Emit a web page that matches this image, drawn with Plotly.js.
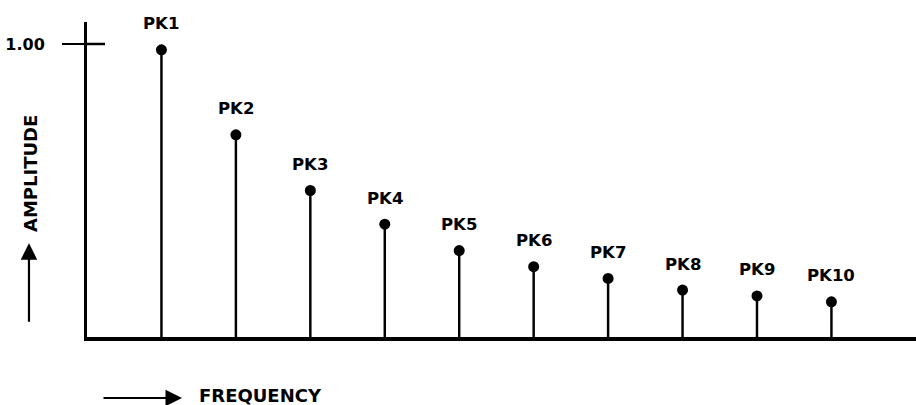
<!DOCTYPE html>
<html>
<head>
<meta charset="utf-8">
<script src="https://cdn.plot.ly/plotly-3.0.1.min.js"></script>
<style>html,body{margin:0;padding:0;background:#fff;}#chart{width:916px;height:405px;}</style>
</head>
<body>
<div id="chart"></div>
<script>
var peakLabels = ['PK1','PK2','PK3','PK4','PK5','PK6','PK7','PK8','PK9','PK10'];
var frequency = [1,2,3,4,5,6,7,8,9,10];
var amplitude = [0.98,0.69,0.50,0.385,0.295,0.24,0.20,0.16,0.14,0.12];
var yTickVals = [1];
var yTickText = ['<b>1.00</b>'];

var FONT = 'DejaVu Sans';

var stems = {
  type: 'bar', x: frequency, y: amplitude, width: 0.033,
  marker: {color: '#000', line: {width: 0}}, hoverinfo: 'skip', showlegend: false
};
var dots = {
  type: 'scatter', mode: 'markers', x: frequency, y: amplitude,
  marker: {color: '#000', size: 11}, showlegend: false
};

var annotations = peakLabels.map(function(t, i){
  return {x: frequency[i], y: amplitude[i], xref: 'x', yref: 'y', text: '<b>'+t+'</b>',
    showarrow: false, yshift: 26, yanchor: 'middle', xanchor: 'center',
    font: {family: FONT, size: 16.5, color: '#000'}};
});
annotations.push({xref:'paper', yref:'paper', x:0.1327, y:-0.185, xanchor:'left', yanchor:'middle',
  text:'<b>FREQUENCY</b>', showarrow:false, font:{family:FONT, size:18, color:'#000'}});
annotations.push({xref:'paper', yref:'paper', x:-0.0688, y:0.5206, xanchor:'center', yanchor:'middle',
  text:'<b>AMPLITUDE</b>', textangle:-90, showarrow:false, font:{family:FONT, size:18, color:'#000'}});
annotations.push({xref:'paper', yref:'paper', x:0.1146, y:-0.1937, text:'', showarrow:true,
  ax:-80, ay:0, arrowhead:2, arrowsize:1.5, arrowwidth:2.2, arrowcolor:'#000'});
annotations.push({xref:'paper', yref:'paper', x:-0.0700, y:0.298, text:'', showarrow:true,
  ax:0, ay:80, arrowhead:2, arrowsize:1.5, arrowwidth:2.2, arrowcolor:'#000'});

var layout = {
  width: 916, height: 405,
  margin: {l: 87, r: 0, t: 22, b: 68},
  paper_bgcolor: '#fff', plot_bgcolor: '#fff',
  xaxis: {range: [0, 11.136], showline: true, linecolor: '#000', linewidth: 3.5,
    showticklabels: false, ticks: '', showgrid: false, zeroline: false, fixedrange: true},
  yaxis: {range: [0, 1.075], showline: true, linecolor: '#000', linewidth: 3,
    tickvals: yTickVals, ticktext: yTickText, ticks: 'outside', ticklen: 22, tickwidth: 2.5,
    tickcolor: '#000', ticklabelstandoff: 14, showgrid: false, zeroline: false,
    tickfont: {family: FONT, size: 16, color: '#000'}},
  shapes: [{type:'line', xref:'paper', yref:'y', x0:0, x1:0.0217, y0:1, y1:1,
    line:{color:'#000', width:2.5}}],
  annotations: annotations,
  showlegend: false
};

Plotly.newPlot('chart', [stems, dots], layout, {displayModeBar: false, staticPlot: true});
</script>
</body>
</html>
